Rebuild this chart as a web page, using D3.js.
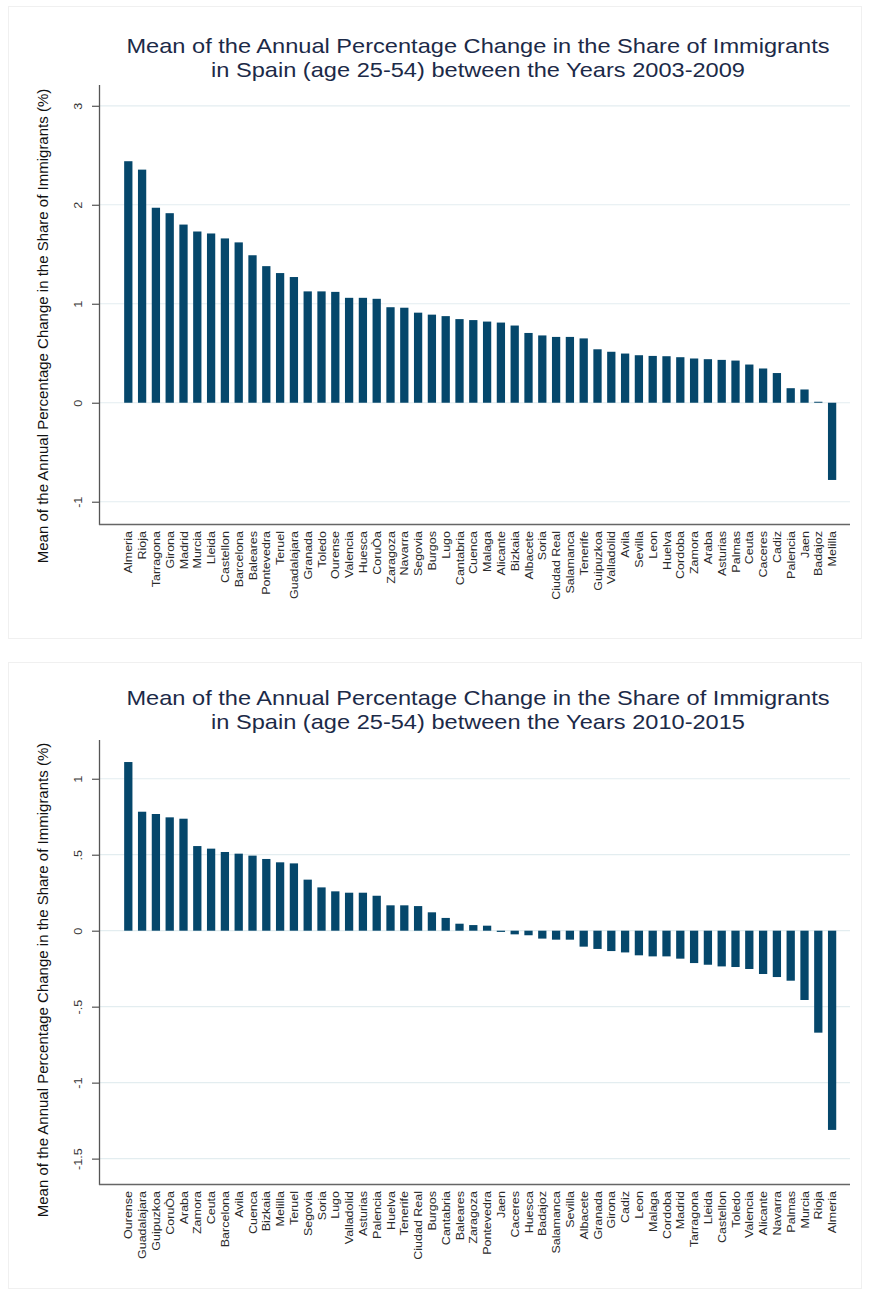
<!DOCTYPE html>
<html>
<head>
<meta charset="utf-8">
<script src="https://cdn.jsdelivr.net/npm/d3@7"></script>
<style>
  html, body { margin: 0; padding: 0; background: #ffffff; }
  svg { display: block; }
  text { font-family: "Liberation Sans", Arial, Helvetica, sans-serif; }
</style>
</head>
<body>
<svg id="chart" width="870" height="1291"></svg>
<script>
// Provinces and mean annual % change, 2003-2009 (sorted descending)
const provinces0309 = ["Almeria","Rioja","Tarragona","Girona","Madrid","Murcia","Lleida","Castellon",
  "Barcelona","Baleares","Pontevedra","Teruel","Guadalajara","Granada","Toledo","Ourense","Valencia",
  "Huesca","CoruÒa","Zaragoza","Navarra","Segovia","Burgos","Lugo","Cantabria","Cuenca","Malaga",
  "Alicante","Bizkaia","Albacete","Soria","Ciudad Real","Salamanca","Tenerife","Guipuzkoa","Valladolid",
  "Avila","Sevilla","Leon","Huelva","Cordoba","Zamora","Araba","Asturias","Palmas","Ceuta","Caceres",
  "Cadiz","Palencia","Jaen","Badajoz","Melilla"];
const change0309 = [2.44,2.355,1.97,1.915,1.80,1.73,1.71,1.66,1.62,1.49,1.38,1.31,1.27,1.125,1.125,1.12,
  1.06,1.06,1.05,0.965,0.96,0.91,0.89,0.875,0.845,0.835,0.82,0.81,0.78,0.705,0.68,0.665,0.665,0.65,
  0.54,0.515,0.497,0.48,0.473,0.47,0.46,0.447,0.44,0.433,0.426,0.386,0.346,0.30,0.147,0.134,0.01,-0.78];

// Provinces and mean annual % change, 2010-2015 (sorted descending)
const provinces1015 = ["Ourense","Guadalajara","Guipuzkoa","CoruÒa","Araba","Zamora","Ceuta","Barcelona",
  "Avila","Cuenca","Bizkaia","Melilla","Teruel","Segovia","Soria","Lugo","Valladolid","Asturias",
  "Palencia","Huelva","Tenerife","Ciudad Real","Burgos","Cantabria","Baleares","Zaragoza","Pontevedra",
  "Jaen","Caceres","Huesca","Badajoz","Salamanca","Sevilla","Albacete","Granada","Girona","Cadiz","Leon",
  "Malaga","Cordoba","Madrid","Tarragona","Lleida","Castellon","Toledo","Valencia","Alicante","Navarra",
  "Palmas","Murcia","Rioja","Almeria"];
const change1015 = [1.11,0.783,0.768,0.746,0.737,0.557,0.54,0.518,0.507,0.494,0.472,0.45,0.443,0.336,
  0.285,0.259,0.25,0.25,0.23,0.167,0.167,0.162,0.121,0.084,0.046,0.037,0.033,-0.008,-0.024,-0.03,
  -0.052,-0.059,-0.059,-0.105,-0.12,-0.134,-0.143,-0.162,-0.169,-0.169,-0.184,-0.213,-0.224,-0.235,
  -0.239,-0.252,-0.285,-0.305,-0.329,-0.456,-0.671,-1.311];

// Axis ticks and their labels
const ticks0309 = [-1, 0, 1, 2, 3];
const tickLabels0309 = ["-1", "0", "1", "2", "3"];
const ticks1015 = [-1.5, -1, -0.5, 0, 0.5, 1];
const tickLabels1015 = ["-1.5", "-1", "-.5", "0", ".5", "1"];

const titles0309 = ["Mean of the Annual Percentage Change in the Share of Immigrants",
  "in Spain (age 25-54) between the Years 2003-2009"];
const titles1015 = ["Mean of the Annual Percentage Change in the Share of Immigrants",
  "in Spain (age 25-54) between the Years 2010-2015"];
const yTitle = "Mean of the Annual Percentage Change in the Share of Immigrants (%)";

const BAR = "#05476b";
const GRID = "#e3edf0";
const svg = d3.select("#chart");

function drawPanel(opt) {
  const g = svg.append("g");

  // faint panel frame
  g.append("rect")
    .attr("x", 8.5).attr("y", opt.frame[0] + 0.5)
    .attr("width", 853).attr("height", opt.frame[1] - opt.frame[0])
    .attr("fill", "#ffffff").attr("stroke", "#f0f0f0");

  const x = d3.scaleBand()
    .domain(opt.cats)
    .range([121.4, 839])
    .paddingInner(0.4)
    .paddingOuter(0.2);

  const y = d3.scaleLinear()
    .domain(opt.domain)
    .range([opt.plot[1], opt.plot[0]]);

  const left = 100, right = 850;

  // grid lines
  g.append("g").selectAll("line")
    .data(opt.ticks)
    .join("line")
    .attr("x1", left).attr("x2", right)
    .attr("y1", d => y(d)).attr("y2", d => y(d))
    .attr("stroke", GRID).attr("stroke-width", 1.2);

  // bars
  g.append("g").selectAll("rect")
    .data(opt.vals)
    .join("rect")
    .attr("x", (d, i) => x(opt.cats[i]))
    .attr("width", x.bandwidth())
    .attr("y", d => y(Math.max(0, d)))
    .attr("height", d => Math.abs(y(d) - y(0)))
    .attr("fill", BAR);

  // y axis
  const yAxis = d3.axisLeft(y)
    .tickValues(opt.ticks)
    .tickFormat((d, i) => opt.tickLabels[i])
    .tickSize(8)
    .tickPadding(3);
  const ya = g.append("g").attr("transform", `translate(${left},0)`).call(yAxis);
  ya.select(".domain")
    .attr("d", `M-0.5,${opt.plot[0]}V${opt.plot[1] + 1}`)
    .attr("stroke", "#555").attr("stroke-width", 1.3);
  ya.selectAll(".tick line").attr("stroke", "#555").attr("stroke-width", 1.2);
  ya.selectAll(".tick text")
    .attr("x", null).attr("dy", null)
    .attr("text-anchor", "middle")
    .attr("transform", "translate(-18,0) rotate(-90) scale(1.15,1)")
    .attr("font-size", 11)
    .attr("fill", "#333");

  // x axis
  const xAxis = d3.axisBottom(x).tickSize(0).tickPadding(0);
  const xa = g.append("g").attr("transform", `translate(0,${opt.plot[1]})`).call(xAxis);
  xa.select(".domain")
    .attr("d", `M${left - 1},0.5H${right}`)
    .attr("stroke", "#666").attr("stroke-width", 1.6);
  xa.selectAll(".tick text")
    .attr("y", null).attr("dy", null)
    .attr("text-anchor", "end")
    .attr("transform", "translate(4,7) rotate(-90) scale(1.19,1)")
    .attr("font-size", 10.5)
    .attr("fill", "#2a2a2a");

  // chart title, two lines
  g.append("g").selectAll("text")
    .data(opt.titles)
    .join("text")
    .attr("transform", (d, i) => `translate(478,${opt.titleY + i * 24}) scale(1.13,1)`)
    .attr("text-anchor", "middle")
    .attr("font-size", 20.9)
    .attr("fill", "#1c2a48")
    .text(d => d);

  // y axis title
  g.append("text")
    .attr("transform", `translate(48,${opt.yTitleY}) rotate(-90)`)
    .attr("text-anchor", "middle")
    .attr("font-size", 15)
    .attr("fill", "#111")
    .text(yTitle);
}

drawPanel({
  frame: [6, 638],
  cats: provinces0309, vals: change0309,
  domain: [-1.225, 3.21], plot: [85, 524],
  ticks: ticks0309, tickLabels: tickLabels0309,
  titles: titles0309, titleY: 53, yTitleY: 326
});

drawPanel({
  frame: [662, 1288],
  cats: provinces1015, vals: change1015,
  domain: [-1.667, 1.255], plot: [740, 1184],
  ticks: ticks1015, tickLabels: tickLabels1015,
  titles: titles1015, titleY: 705, yTitleY: 980
});
</script>
</body>
</html>
